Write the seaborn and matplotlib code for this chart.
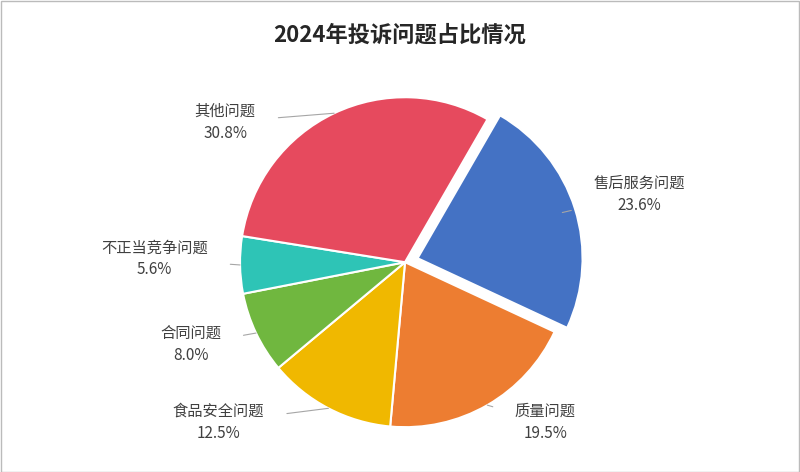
import matplotlib
matplotlib.use("Agg")
import matplotlib.pyplot as plt
import seaborn as sns
import numpy as np

categories = ["售后服务问题", "质量问题", "食品安全问题", "合同问题", "不正当竞争问题", "其他问题"]
values = [23.6, 19.5, 12.5, 8.0, 5.6, 30.8]
colors = ["#4472C4", "#ED7D31", "#F0B800", "#70B73F", "#2EC4B6", "#E64A5E"]
title = "2024年投诉问题占比情况"

sns.set_theme(style="white")
plt.rcParams["font.family"] = "Noto Sans CJK SC"

fig = plt.figure(figsize=(8, 4.72), dpi=100)
fig.patches.append(matplotlib.patches.Rectangle((0.001, 0.001), 0.998, 0.997, transform=fig.transFigure,
                                                fill=False, edgecolor="#BBBBBB", lw=1))
ax = fig.add_axes([0.30, 0.095, 0.4125, 0.699])
explode = [0.08, 0, 0, 0, 0, 0]
wedges, _ = ax.pie(values, colors=colors, startangle=60, counterclock=False, explode=explode,
                   wedgeprops=dict(edgecolor="white", linewidth=1.5))
ax.set_xlim(-1, 1)
ax.set_ylim(-1, 1)
ax.set_aspect("equal")
ax.axis("off")

lbl_pos = [(1.42, 0.41), (0.85, -0.97), (-1.13, -0.97), (-1.30, -0.50), (-1.52, 0.02), (-1.09, 0.85)]
for w, name, v, (tx, ty) in zip(wedges, categories, values, lbl_pos):
    th = np.deg2rad((w.theta1 + w.theta2) / 2)
    x, y = np.cos(th), np.sin(th)
    ax.annotate(f"{name}\n{v:.1f}%", xy=(x, y), xytext=(tx, ty), ha="center", va="center",
                fontsize=11, color="#404040", linespacing=1.4, annotation_clip=False,
                arrowprops=dict(arrowstyle="-", color="#A6A6A6", lw=0.8, shrinkA=14, shrinkB=0))
fig.text(0.5, 0.925, title, ha="center", va="center", fontsize=16, fontweight="bold", color="#262626")
fig.savefig("out.png", dpi=100)
